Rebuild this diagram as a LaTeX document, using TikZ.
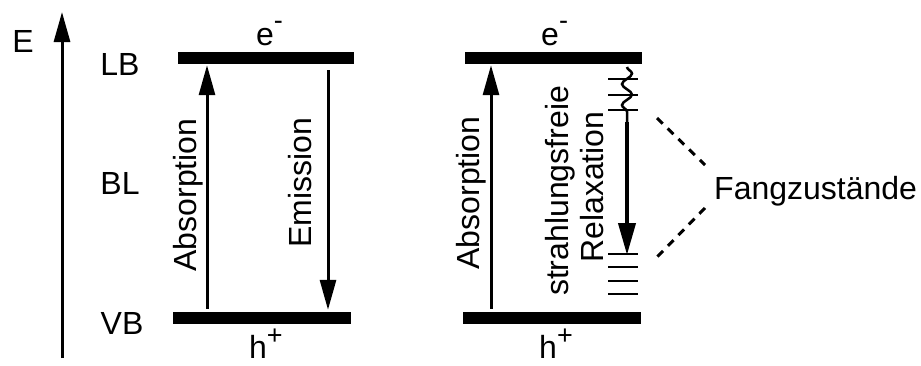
\documentclass[tikz,border=0pt]{standalone}
\usepackage{fontspec}
\setmainfont{Liberation Sans}
\usetikzlibrary{arrows.meta,positioning}
\usetikzlibrary{decorations.pathmorphing}
\newcommand{\chg}[2]{\raisebox{#1}{\fontsize{27}{27}\selectfont #2}}
\tikzset{
  txt/.style={inner sep=0pt,font=\fontsize{32}{36}\selectfont},
  band/.style={fill=black,inner sep=0pt,minimum height=12pt},
  trans/.style={line width=3pt,-{Triangle[length=30pt,width=16pt]}},
  trap/.style={line width=2.5pt},
}

\begin{document}
\begin{tikzpicture}[x=1pt,y=-1pt]
\useasboundingbox (0,0) rectangle (921,365);
% energy axis
\coordinate (e0) at (62,358);
\coordinate (e1) at (62,12);
\draw[trans] (e0) -- (e1);
\node (E) [txt] at (23,41) {E};
\node (lb) [txt] at (120,64) {LB};
\node (bl) [txt] at (120,183) {BL};
\node (vb) [txt] at (122,323) {VB};
%
% left: band to band
\node (lbA) [band,minimum width=176pt] at (266,58) {};
\node (vbA) [band,minimum width=178pt] at (262,318) {};
\node (elA) [txt,anchor=base west] at (256,45) {e\chg{15.5pt}{-}};
\node (hoA) [txt,anchor=base west] at (249,358) {h\chg{14pt}{+}};
\draw[trans] ([xshift=-55pt,yshift=3pt]vbA.north) -- ([xshift=-59pt,yshift=-1pt]lbA.south);
\draw[trans] ([xshift=62pt,yshift=-6pt]lbA.south) -- ([xshift=66pt,yshift=2pt]vbA.north);
\node (absA) [txt,rotate=90] at (188,195) {Absorption};
\node (emA) [txt,rotate=90] at (300,183) {Emission};
%
% right: relaxation over traps
\node (lbB) [band,minimum width=177pt] at (553.5,58) {};
\node (vbB) [band,minimum width=178pt] at (552,318) {};
\node (elB) [txt,anchor=base west] at (541,45) {e\chg{15.5pt}{-}};
\node (hoB) [txt,anchor=base west] at (539,358) {h\chg{14pt}{+}};
\draw[trans] ([xshift=-61pt,yshift=3pt]vbB.north) -- ([xshift=-62.5pt,yshift=-1pt]lbB.south);
\node (absB) [txt,rotate=90] at (471,193) {Absorption};
\node (sfB) [txt,rotate=90] at (560,191) {strahlungsfreie};
\node (relB) [txt,rotate=90] at (592,187) {Relaxation};
% trap levels
\foreach \y in {79,95,110,254,267,281,294}
  \draw[trap] (608,\y) -- (638,\y);
\coordinate (r0) at (627,67);
\coordinate (r1) at (627,122);
\coordinate (r2) at (627,255);
\draw[line width=2.5pt,decorate,decoration={snake,segment length=21pt,amplitude=5pt}] (r0) -- (r1);
\draw[line width=4pt,-{Triangle[length=32pt,width=17pt]}] (r1) -- (r2);
%
\node (fz) [txt,anchor=base west] at (714,199) {Fangzustände};
\coordinate (dU0) at (657,118);
\coordinate (dU1) at (705,165);
\coordinate (dL0) at (705,208);
\coordinate (dL1) at (657,257);
\draw[line width=3pt,dash pattern=on 8pt off 7pt] (dU0) -- (dU1);
\draw[line width=3pt,dash pattern=on 8pt off 7pt] (dL0) -- (dL1);
\end{tikzpicture}
\end{document}
